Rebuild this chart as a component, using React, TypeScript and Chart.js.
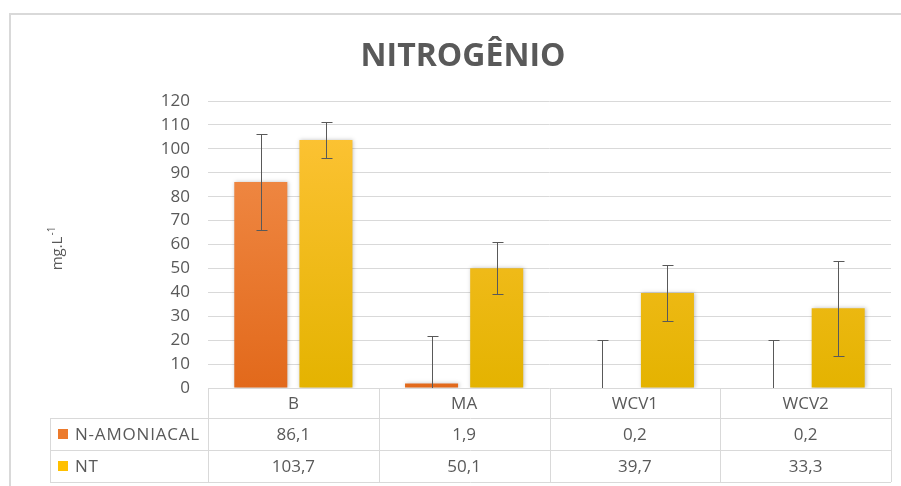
import React, { useEffect, useRef } from "react";
import { Chart, registerables } from "chart.js";

Chart.register(...registerables);

const title = "NITROGÊNIO";
const categories = ["B", "MA", "WCV1", "WCV2"];
const seriesNames = ["N-AMONIACAL", "NT"];
const nAmoniacal = [86.1, 1.9, 0.2, 0.2];
const nt = [103.7, 50.1, 39.7, 33.3];
const nAmoniacalErr = [20, 20, 20, 20];
const ntErr = [7.6, 10.8, 11.7, 19.9];
const yMin = 0;
const yMax = 120;
const yStep = 10;
const yTitleMain = "mg.L";
const yTitleSup = "-1";

const FONT = "'Open Sans', 'DejaVu Sans', sans-serif";
const TEXT = "#595959";
const GRID = "#d9d9d9";
const SWATCH = ["#EC7A2C", "#FFC000"];

const fmt = (v: number) => v.toFixed(1).replace(".", ",");

function gradient(ctx: any, area: any, top: string, bottom: string) {
  const g = ctx.createLinearGradient(0, area.top, 0, area.bottom);
  g.addColorStop(0, top);
  g.addColorStop(1, bottom);
  return g;
}

const shadowPlugin = {
  id: "barShadow",
  beforeDatasetsDraw(chart: any) {
    const ctx = chart.ctx;
    ctx.save();
    ctx.shadowColor = "rgba(0,0,0,0.25)";
    ctx.shadowBlur = 4;
    ctx.shadowOffsetX = 1;
    ctx.shadowOffsetY = 0;
  },
  afterDatasetsDraw(chart: any) {
    chart.ctx.restore();
  },
};

const decorPlugin = {
  id: "decor",
  afterDatasetsDraw(chart: any) {
    const ctx = chart.ctx;
    const area = chart.chartArea;
    const y = chart.scales.y;
    const errs = [nAmoniacalErr, ntErr];
    ctx.save();
    ctx.beginPath();
    ctx.rect(area.left, area.top - 20, area.right - area.left, area.bottom - area.top + 20);
    ctx.clip();
    ctx.strokeStyle = "#595959";
    ctx.lineWidth = 1;
    chart.data.datasets.forEach((ds: any, di: number) => {
      const meta = chart.getDatasetMeta(di);
      meta.data.forEach((bar: any, i: number) => {
        const v = ds.data[i];
        const e = errs[di][i];
        const x = Math.round(bar.x) + 0.5;
        const yt = Math.round(y.getPixelForValue(v + e)) + 0.5;
        const yb = Math.round(y.getPixelForValue(v - e)) + 0.5;
        ctx.beginPath();
        ctx.moveTo(x, yt);
        ctx.lineTo(x, yb);
        ctx.moveTo(x - 5, yt);
        ctx.lineTo(x + 6, yt);
        if (v - e >= yMin) {
          ctx.moveTo(x - 5, yb);
          ctx.lineTo(x + 6, yb);
        }
        ctx.stroke();
      });
    });
    ctx.restore();
  },
  afterDraw(chart: any) {
    const ctx = chart.ctx;
    const area = chart.chartArea;
    const xs = chart.scales.x;
    ctx.save();
    // outer frame
    ctx.strokeStyle = GRID;
    ctx.lineWidth = 2;
    ctx.beginPath();
    ctx.moveTo(10, 486);
    ctx.lineTo(10, 14);
    ctx.lineTo(901, 14);
    ctx.stroke();

    // title
    ctx.fillStyle = TEXT;
    ctx.font = `bold 32px ${FONT}`;
    ctx.textAlign = "center";
    ctx.textBaseline = "alphabetic";
    ctx.fillText(title, 463, 66);

    // y axis title
    ctx.save();
    ctx.translate(62, 249);
    ctx.rotate(-Math.PI / 2);
    ctx.font = `15px ${FONT}`;
    const w1 = ctx.measureText(yTitleMain).width;
    ctx.font = `10px ${FONT}`;
    const w2 = ctx.measureText(yTitleSup).width;
    const start = -(w1 + w2) / 2;
    ctx.textAlign = "left";
    ctx.font = `15px ${FONT}`;
    ctx.fillText(yTitleMain, start, 0);
    ctx.font = `10px ${FONT}`;
    ctx.fillText(yTitleSup, start + w1 + 1, -7);
    ctx.restore();

    // data table
    const n = categories.length;
    const colW = (area.right - area.left) / n;
    const r0 = area.bottom;
    const r1 = 418;
    const r2 = 450;
    const r3 = 482;
    const leftX = 50;
    ctx.strokeStyle = GRID;
    ctx.lineWidth = 1;
    ctx.beginPath();
    for (let i = 0; i <= n; i++) {
      const x = Math.round(area.left + i * colW) + 0.5;
      ctx.moveTo(x, r0);
      ctx.lineTo(x, r3);
    }
    ctx.moveTo(leftX + 0.5, r1);
    ctx.lineTo(leftX + 0.5, r3);
    [r1, r2, r3].forEach((r) => {
      ctx.moveTo(leftX, r + 0.5);
      ctx.lineTo(area.right, r + 0.5);
    });
    ctx.stroke();

    ctx.fillStyle = TEXT;
    ctx.font = `17px ${FONT}`;
    ctx.textAlign = "center";
    ctx.textBaseline = "middle";
    const rows = [nAmoniacal, nt];
    categories.forEach((c, i) => {
      const cx = xs.getPixelForTick(i);
      ctx.fillText(c, cx, (r0 + r1) / 2 + 1);
      ctx.fillText(fmt(rows[0][i]), cx, (r1 + r2) / 2 + 1);
      ctx.fillText(fmt(rows[1][i]), cx, (r2 + r3) / 2 + 1);
    });
    const rowMid = [(r1 + r2) / 2, (r2 + r3) / 2];
    seriesNames.forEach((s, k) => {
      ctx.fillStyle = SWATCH[k];
      ctx.fillRect(58, rowMid[k] - 5, 10, 10);
      ctx.fillStyle = TEXT;
      ctx.textAlign = "left";
      (ctx as any).letterSpacing = "0.8px";
      ctx.fillText(s, 75, rowMid[k] + 1);
      (ctx as any).letterSpacing = "0px";
    });
    ctx.restore();
  },
};

export default function App() {
  const ref = useRef<HTMLCanvasElement | null>(null);
  useEffect(() => {
    if (!ref.current) return;
    const chart = new Chart(ref.current, {
      type: "bar",
      data: {
        labels: categories,
        datasets: [
          {
            label: seriesNames[0],
            data: nAmoniacal,
            backgroundColor: (c: any) => {
              const a = c.chart.chartArea;
              if (!a) return SWATCH[0];
              return gradient(c.chart.ctx, a, "#F3914F", "#E2691B");
            },
            categoryPercentage: 0.763,
            barPercentage: 0.814,
          },
          {
            label: seriesNames[1],
            data: nt,
            backgroundColor: (c: any) => {
              const a = c.chart.chartArea;
              if (!a) return SWATCH[1];
              return gradient(c.chart.ctx, a, "#FFC43A", "#E4B300");
            },
            categoryPercentage: 0.763,
            barPercentage: 0.814,
          },
        ],
      },
      options: {
        responsive: false,
        animation: false,
        layout: { padding: { left: 0, right: 10, top: 101, bottom: 98 } },
        plugins: {
          legend: { display: false },
          title: { display: false },
          tooltip: { enabled: false },
        },
        scales: {
          x: { display: false },
          y: {
            min: yMin,
            max: yMax,
            ticks: {
              stepSize: yStep,
              color: TEXT,
              font: { family: FONT, size: 17 },
              padding: 18,
            },
            grid: { color: GRID, lineWidth: 1, drawTicks: false },
            border: { display: false },
            afterFit: (s: any) => {
              s.width = 208;
            },
          },
        },
      },
      plugins: [shadowPlugin, decorPlugin],
    });
    return () => chart.destroy();
  }, []);
  return (
    <div style={{ position: "absolute", left: 0, top: 0, width: 901, height: 486 }}>
      <canvas ref={ref} width={901} height={486} style={{ display: "block" }} />
    </div>
  );
}
